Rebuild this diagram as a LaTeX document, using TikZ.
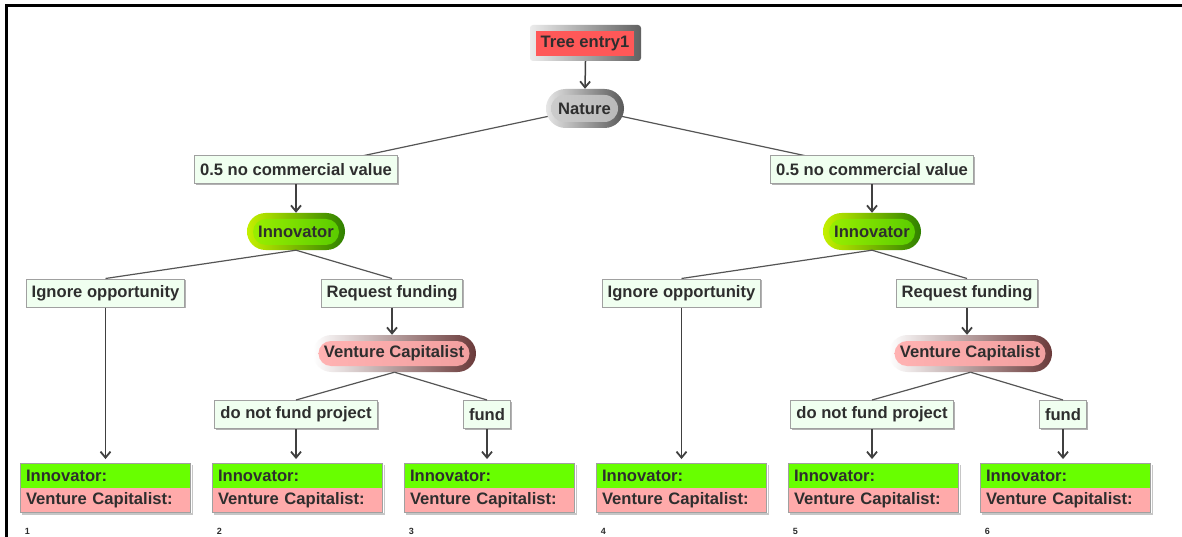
\documentclass[tikz,border=0pt]{standalone}
\usepackage{fontspec}
\setmainfont{Liberation Sans}
\usetikzlibrary{shapes.misc,arrows.meta,backgrounds,calc,shadows}
\definecolor{txt}{HTML}{2E2E2E}
\definecolor{lblfill}{HTML}{F0FFF0}
\definecolor{lbldraw}{HTML}{A0A0A0}
\definecolor{redfill}{HTML}{FF5858}
\definecolor{payg}{HTML}{68FF00}
\definecolor{payp}{HTML}{FFAAAA}
\definecolor{linec}{HTML}{555555}
\definecolor{arrc}{HTML}{404040}
\definecolor{innoL}{HTML}{C4F000}
\definecolor{innoR}{HTML}{2F8000}
\definecolor{inniL}{HTML}{99EE00}
\definecolor{inniR}{HTML}{5ACC00}
\definecolor{vcoR}{HTML}{6A3A3A}
\definecolor{vcoM}{HTML}{D49A9A}
\definecolor{vciL}{HTML}{FFB2B2}
\definecolor{vciR}{HTML}{F2A0A0}
\newcommand\nf{\fontsize{16.6}{18}\selectfont\bfseries}
\newcommand\smallnf{\fontsize{9}{10}\selectfont\bfseries}
\newcommand\mypayoff[3]{%
  \node[payrow, fill=payg] (#1i) at (#2,475.5) {Innovator:};
  \node[payrow, fill=payp] (#1v) at (#2,500) {Venture Capitalist:};
  \draw[gray!45, line width=1.4pt] ($(#1i.north east)+(1.6,2)$) -- ($(#1v.south east)+(1.6,1.6)$) -- ($(#1v.south west)+(2,1.6)$);
  \draw[lbldraw, line width=1pt] (#1i.north west) rectangle (#1v.south east);
  \node[numf] (#1n) at ($(#1i.north west)+(7,68)$) {#3};
}
\begin{document}
\begin{tikzpicture}[x=1pt,y=-1pt,
  every node/.style={font=\nf, text=txt},
  lbl/.style={rectangle, draw=lbldraw, line width=1pt, fill=lblfill, minimum height=28pt, inner xsep=5.5pt, inner ysep=0pt,
    drop shadow={shadow xshift=1.4pt, shadow yshift=-1.4pt, fill=black!30, opacity=1}},
  pill/.style={rounded rectangle, inner sep=0pt},
  link/.style={draw=linec, line width=1.2pt},
  arr/.style={draw=arrc, line width=1.5pt, -{Straight Barb[length=6pt,width=10pt,line width=1.8pt]}},
  payrow/.style={rectangle, minimum height=24.5pt, text width=159pt, inner xsep=5.5pt, inner ysep=0pt, align=left},
  numf/.style={font=\smallnf, inner sep=0pt}
]
\useasboundingbox (0,0) rectangle (1182,537);
\draw[black, line width=2.6pt] (6.3,537) -- (6.3,5.3) -- (1182,5.3);

% root
\node[rectangle, rounded corners=3pt, minimum width=111pt, minimum height=36pt, inner sep=0pt,
  left color=gray!15, right color=black!62] (te-o) at (585.5,43) {};
\node[rectangle, fill=redfill, minimum width=98pt, minimum height=25pt, inner sep=0pt] (te) at (585,43.5) {Tree entry1};

% Nature
\node[pill, minimum width=78pt, minimum height=39pt, left color=gray!20, right color=black!65] (nat-o) at (585,108.5) {};
\node[pill, minimum width=67pt, minimum height=27pt, left color=gray!40, right color=gray!55] (nat) at (584.5,108.5) {Nature};

% chance labels
\node[lbl] (cvL) at (296,170) {0.5 no commercial value};
\node[lbl] (cvR) at (872,170) {0.5 no commercial value};

% Innovators
\node[pill, minimum width=98pt, minimum height=37pt, left color=innoL, right color=innoR] (innL-o) at (296,231.5) {};
\node[pill, minimum width=86pt, minimum height=26pt, left color=inniL, right color=inniR] (innL) at (296,232) {Innovator};
\node[pill, minimum width=98pt, minimum height=37pt, left color=innoL, right color=innoR] (innR-o) at (872,231.5) {};
\node[pill, minimum width=86pt, minimum height=26pt, left color=inniL, right color=inniR] (innR) at (872,232) {Innovator};

% actions
\node[lbl] (ignL) at (105.5,293) {Ignore opportunity};
\node[lbl] (reqL) at (392,293) {Request funding};
\node[lbl] (ignR) at (681.5,293) {Ignore opportunity};
\node[lbl] (reqR) at (967,293) {Request funding};

% Venture capitalists
\node[pill, minimum width=163pt, minimum height=37pt, left color=white, middle color=vcoM, right color=vcoR] (vcL-o) at (394.5,353.5) {};
\node[pill, minimum width=151pt, minimum height=25pt, left color=vciL, right color=vciR] (vcL) at (394,353.5) {Venture Capitalist};
\node[pill, minimum width=163pt, minimum height=37pt, left color=white, middle color=vcoM, right color=vcoR] (vcR-o) at (970.5,353.5) {};
\node[pill, minimum width=151pt, minimum height=25pt, left color=vciL, right color=vciR] (vcR) at (970,353.5) {Venture Capitalist};

% responses
\node[lbl] (nfL) at (296,414.5) {do not fund project};
\node[lbl] (fL) at (487,414.5) {fund};
\node[lbl] (nfR) at (872,414.5) {do not fund project};
\node[lbl] (fR) at (1063,414.5) {fund};

% payoffs
\mypayoff{p1}{105.5}{1}
\mypayoff{p2}{297.5}{2}
\mypayoff{p3}{489.5}{3}
\mypayoff{p4}{681.5}{4}
\mypayoff{p5}{873.5}{5}
\mypayoff{p6}{1065.5}{6}

% connectors
\begin{scope}[on background layer]
\fill[white] (0,0) rectangle (1182,537);
\draw[link] (nat-o.center) -- (cvL.center);
\draw[link] (nat-o.center) -- (cvR.center);
\end{scope}
\draw[link] (innL-o.south) -- (ignL.north);
\draw[link] (innL-o.south) -- (reqL.north);
\draw[link] (innR-o.south) -- (ignR.north);
\draw[link] (innR-o.south) -- (reqR.north);
\draw[link] (vcL-o.south) -- (nfL.north);
\draw[link] (vcL-o.south) -- (fL.north);
\draw[link] (vcR-o.south) -- (nfR.north);
\draw[link] (vcR-o.south) -- (fR.north);

\draw[arr] (te-o.south) -- (nat-o.north);
\draw[arr] (cvL.south) -- (innL-o.north);
\draw[arr] (cvR.south) -- (innR-o.north);
\draw[arr] (reqL.south) -- (reqL.south |- vcL-o.north);
\draw[arr] (reqR.south) -- (reqR.south |- vcR-o.north);
\draw[arr, shorten >=4pt] (ignL.south) -- (ignL.south |- p1i.north);
\draw[arr, shorten >=4pt] (nfL.south) -- (nfL.south |- p2i.north);
\draw[arr, shorten >=4pt] (fL.south) -- (fL.south |- p3i.north);
\draw[arr, shorten >=4pt] (ignR.south) -- (ignR.south |- p4i.north);
\draw[arr, shorten >=4pt] (nfR.south) -- (nfR.south |- p5i.north);
\draw[arr, shorten >=4pt] (fR.south) -- (fR.south |- p6i.north);
\end{tikzpicture}
\end{document}
